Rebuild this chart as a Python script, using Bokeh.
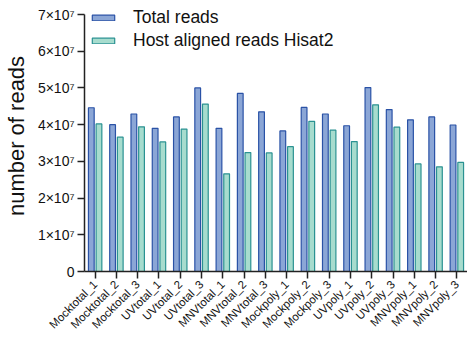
from bokeh.plotting import figure
from bokeh.models import (ColumnDataSource, FactorRange, Range1d, Legend, LegendItem,
                          CustomJSTickFormatter, FixedTicker)
from bokeh.transform import dodge
from bokeh.embed import file_html
from bokeh.resources import INLINE
from math import pi

samples = ["Mocktotal_1", "Mocktotal_2", "Mocktotal_3",
           "UVtotal_1", "UVtotal_2", "UVtotal_3",
           "MNVtotal_1", "MNVtotal_2", "MNVtotal_3",
           "Mockpoly_1", "Mockpoly_2", "Mockpoly_3",
           "UVpoly_1", "UVpoly_2", "UVpoly_3",
           "MNVpoly_1", "MNVpoly_2", "MNVpoly_3"]

total_reads = [4.46e7, 4.00e7, 4.29e7, 3.90e7, 4.21e7, 5.00e7,
               3.90e7, 4.85e7, 4.35e7, 3.83e7, 4.47e7, 4.29e7,
               3.97e7, 5.01e7, 4.41e7, 4.13e7, 4.21e7, 3.99e7]

host_reads = [4.02e7, 3.66e7, 3.94e7, 3.53e7, 3.88e7, 4.56e7,
              2.66e7, 3.24e7, 3.23e7, 3.40e7, 4.09e7, 3.85e7,
              3.54e7, 4.54e7, 3.93e7, 2.93e7, 2.85e7, 2.97e7]

y_ticks = [0, 1e7, 2e7, 3e7, 4e7, 5e7, 6e7, 7e7]
y_axis_max = 7e7

FONT = "Liberation Sans"
TOTAL_FILL, TOTAL_LINE = "#8ba6d6", "#2a52a6"
HOST_FILL, HOST_LINE = "#a7dcce", "#2b9292"

src = ColumnDataSource(dict(sample=samples, total=total_reads, host=host_reads))

# frame runs to the very top of the canvas; a little headroom above the last
# tick leaves space for the legend, and the axis line is bounded to the ticks
p = figure(width=467, height=340, output_backend="svg", toolbar_location=None,
           x_range=FactorRange(factors=samples, range_padding=0),
           y_range=Range1d(0, y_axis_max * 1.0545),
           min_border_left=83, min_border_right=0, min_border_top=0, min_border_bottom=69)

r_total = p.vbar(x=dodge("sample", -0.18, range=p.x_range), top="total", width=0.27,
                 source=src, fill_color=TOTAL_FILL, line_color=TOTAL_LINE, line_width=1.2)
r_host = p.vbar(x=dodge("sample", 0.18, range=p.x_range), top="host", width=0.27,
                source=src, fill_color=HOST_FILL, line_color=HOST_LINE, line_width=1.2)

p.outline_line_color = None
p.xgrid.visible = False
p.ygrid.visible = False

for ax in (p.xaxis[0], p.yaxis[0]):
    ax.axis_line_color = "#222222"
    ax.axis_line_width = 1.5
    ax.major_tick_line_color = "#222222"
    ax.major_tick_line_width = 1.5
    ax.major_tick_out = 7
    ax.major_tick_in = 0
    ax.minor_tick_line_color = None
    ax.major_label_text_font = FONT
    ax.major_label_text_color = "#111111"

p.yaxis.bounds = (0, y_axis_max)
p.yaxis.ticker = FixedTicker(ticks=y_ticks)
p.yaxis.formatter = CustomJSTickFormatter(code="""
    if (tick == 0) return "0";
    const e = Math.floor(Math.log10(tick) + 1e-9);
    const m = Math.round(tick / Math.pow(10, e));
    const sup = {"0":"\u2070","1":"\u00b9","2":"\u00b2","3":"\u00b3","4":"\u2074",
                 "5":"\u2075","6":"\u2076","7":"\u2077","8":"\u2078","9":"\u2079"};
    return m + "\u00d710" + String(e).split("").map(c => sup[c]).join("");
""")
p.yaxis.major_label_text_font_size = "14px"
p.yaxis.major_label_standoff = 3
p.yaxis.axis_label = "number of reads"
p.yaxis.axis_label_text_font = FONT
p.yaxis.axis_label_text_font_size = "22px"
p.yaxis.axis_label_text_font_style = "normal"
p.yaxis.axis_label_text_color = "#111111"
p.yaxis.axis_label_standoff = 6

p.xaxis.major_label_orientation = pi / 4
p.xaxis.major_label_text_font_size = "11.5px"
p.xaxis.major_label_standoff = 4

legend = Legend(items=[LegendItem(label="Total reads", renderers=[r_total]),
                       LegendItem(label="Host aligned reads Hisat2", renderers=[r_host])],
                location=(5, 220), orientation="vertical",
                glyph_width=28, glyph_height=7, label_height=7,
                label_standoff=16, spacing=2, padding=0, margin=0,
                label_text_font=FONT, label_text_font_size="17.5px",
                label_text_color="#111111",
                border_line_color=None, background_fill_alpha=0)
p.add_layout(legend)

open("out.html", "w").write(file_html(p, INLINE))
